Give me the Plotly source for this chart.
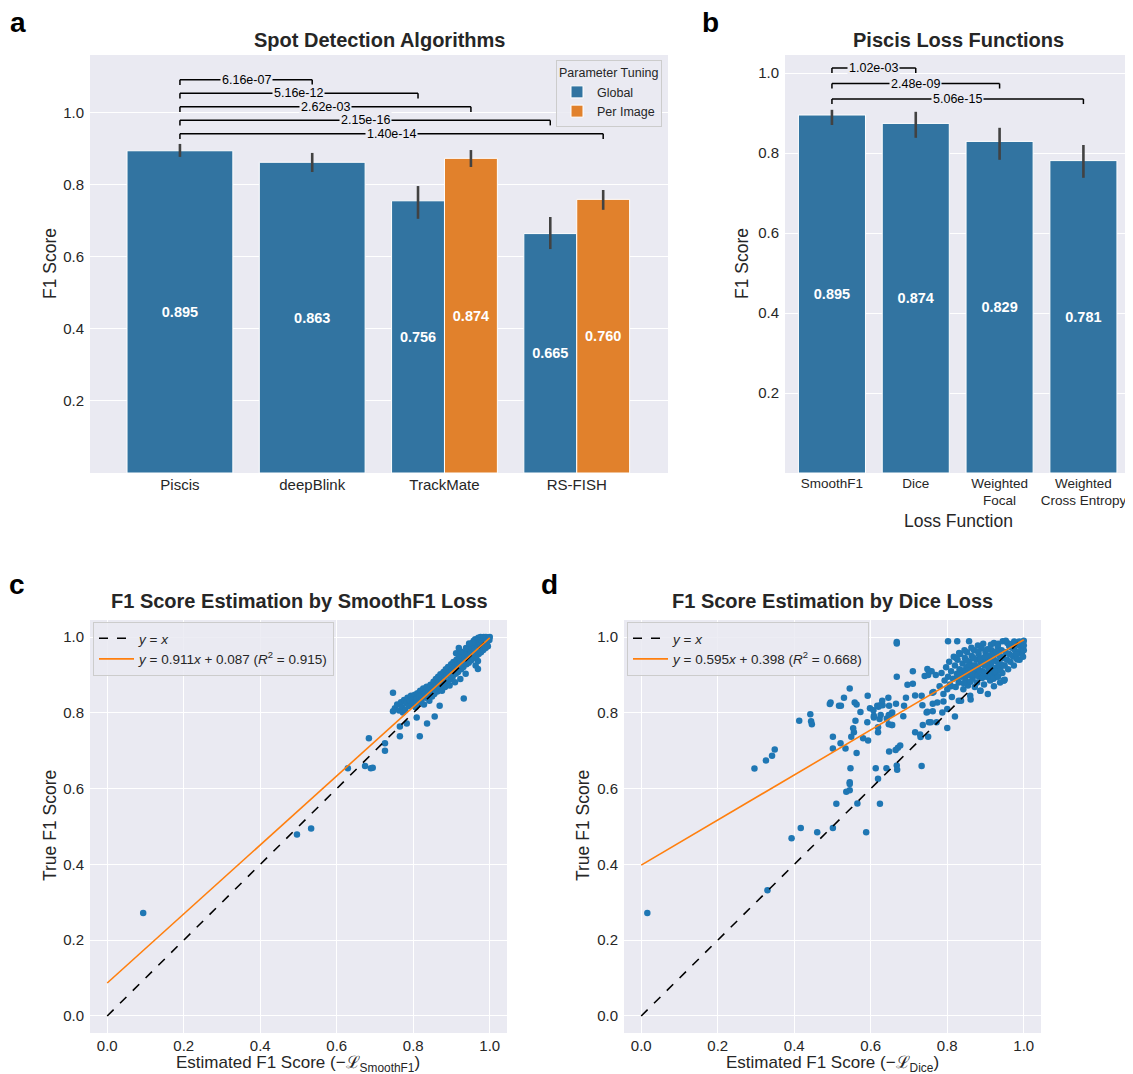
import plotly.graph_objects as go

# The page adds an 8px body margin; work in reference pixel coords and shift.
OFF = 8
W, H = 1133 - OFF, 1074 - OFF
def px(x): return (x - OFF) / W
def py(y): return 1 - (y - OFF) / H

BLUE = "#3274a1"; ORANGE = "#e1812c"; BG = "#eaeaf2"; TXT = "#262626"
SBLUE = "#1f77b4"; SORANGE = "#ff7f0e"
FONT = "Liberation Sans, Arial, Helvetica, sans-serif"

# ---------------- Panel a data ----------------
algorithms = ["Piscis", "deepBlink", "TrackMate", "RS-FISH"]
global_f1 = [0.895, 0.863, 0.756, 0.665]
global_lo = [0.878, 0.836, 0.706, 0.622]
global_hi = [0.914, 0.889, 0.797, 0.711]
perimage_f1 = [None, None, 0.874, 0.760]
perimage_lo = [None, None, 0.850, 0.731]
perimage_hi = [None, None, 0.897, 0.786]
a_comparisons = [("deepBlink", "Global", "6.16e-07"),
                 ("TrackMate", "Global", "5.16e-12"),
                 ("TrackMate", "Per Image", "2.62e-03"),
                 ("RS-FISH", "Global", "2.15e-16"),
                 ("RS-FISH", "Per Image", "1.40e-14")]

# ---------------- Panel b data ----------------
losses = ["SmoothF1", "Dice", "Weighted<br>Focal", "Weighted<br>Cross Entropy"]
loss_f1 = [0.895, 0.874, 0.829, 0.781]
loss_lo = [0.870, 0.838, 0.783, 0.738]
loss_hi = [0.908, 0.903, 0.863, 0.820]
b_comparisons = [(1, "1.02e-03"), (2, "2.48e-09"), (3, "5.06e-15")]

# ---------------- Panel c data (estimated, true) ----------------
smoothf1_points = [
    (0.094, 0.272), (0.496, 0.479), (0.533, 0.495), (0.629, 0.654), (0.674, 0.660),
    (0.684, 0.733), (0.689, 0.654), (0.694, 0.655), (0.726, 0.700), (0.726, 0.720),
    (0.747, 0.853), (0.765, 0.738), (0.765, 0.764), (0.817, 0.738), (0.836, 0.772),
    (0.856, 0.790), (0.932, 0.838), (0.747, 0.804), (0.773, 0.801), (0.783, 0.772),
    (0.809, 0.788), (0.869, 0.819), (0.969, 0.916), (0.969, 0.937),
    (0.752, 0.812), (0.758, 0.822), (0.763, 0.806), (0.768, 0.828), (0.771, 0.815),
    (0.776, 0.834), (0.779, 0.808), (0.782, 0.826), (0.785, 0.840), (0.788, 0.818),
    (0.791, 0.832), (0.794, 0.845), (0.797, 0.822), (0.799, 0.836),
    (0.802, 0.828), (0.804, 0.848), (0.806, 0.815), (0.809, 0.838), (0.811, 0.852),
    (0.813, 0.826), (0.816, 0.842), (0.818, 0.858), (0.821, 0.833), (0.823, 0.847),
    (0.826, 0.864), (0.828, 0.822), (0.831, 0.853), (0.833, 0.840), (0.835, 0.869),
    (0.838, 0.848), (0.840, 0.860), (0.842, 0.832), (0.845, 0.874), (0.847, 0.855),
    (0.849, 0.843),
    (0.851, 0.868), (0.853, 0.882), (0.855, 0.850), (0.857, 0.862), (0.859, 0.889),
    (0.861, 0.873), (0.863, 0.856), (0.865, 0.895), (0.867, 0.880), (0.869, 0.866),
    (0.871, 0.902), (0.873, 0.887), (0.875, 0.858), (0.877, 0.874), (0.879, 0.908),
    (0.881, 0.893), (0.883, 0.868), (0.885, 0.915), (0.887, 0.899), (0.889, 0.881),
    (0.891, 0.921), (0.893, 0.906), (0.895, 0.872), (0.897, 0.888), (0.899, 0.928),
    (0.901, 0.912), (0.903, 0.895), (0.905, 0.934), (0.907, 0.919), (0.909, 0.881),
    (0.911, 0.903), (0.913, 0.940), (0.915, 0.925), (0.917, 0.908), (0.919, 0.946),
    (0.921, 0.930), (0.923, 0.889), (0.925, 0.915), (0.927, 0.952), (0.929, 0.937),
    (0.931, 0.921), (0.933, 0.958), (0.935, 0.943), (0.937, 0.903), (0.939, 0.928),
    (0.941, 0.963), (0.943, 0.948), (0.945, 0.932), (0.947, 0.968), (0.949, 0.954),
    (0.912, 0.957), (0.924, 0.962), (0.938, 0.971), (0.919, 0.971),
    (0.951, 0.938), (0.953, 0.973), (0.955, 0.959), (0.957, 0.944), (0.959, 0.978),
    (0.961, 0.964), (0.963, 0.925), (0.965, 0.950), (0.967, 0.983), (0.969, 0.969),
    (0.971, 0.955), (0.973, 0.987), (0.975, 0.974), (0.977, 0.960), (0.979, 0.991),
    (0.981, 0.978), (0.983, 0.966), (0.985, 0.994), (0.987, 0.983), (0.989, 0.971),
    (0.991, 0.997), (0.993, 0.987), (0.995, 0.976), (0.997, 0.999), (0.999, 0.992),
    (0.962, 0.994), (0.958, 0.990), (0.970, 0.998), (0.976, 1.000), (0.984, 1.000),
    (0.990, 1.000), (0.996, 0.996), (1.000, 1.000), (0.955, 0.985), (0.946, 0.983),
]
smoothf1_fit = (0.911, 0.087, 0.915)  # slope, intercept, R^2

# ---------------- Panel d data (estimated, true) ----------------
dice_points = [
    (0.016, 0.272), (0.330, 0.332), (0.296, 0.653), (0.326, 0.674), (0.342, 0.687),
    (0.349, 0.703), (0.413, 0.779), (0.442, 0.796), (0.444, 0.778), (0.446, 0.770),
    (0.393, 0.469), (0.417, 0.496), (0.460, 0.485), (0.501, 0.496), (0.588, 0.485),
    (0.510, 0.560), (0.565, 0.561), (0.624, 0.560), (0.536, 0.592), (0.545, 0.596),
    (0.545, 0.617), (0.545, 0.612), (0.547, 0.654), (0.563, 0.694), (0.501, 0.706),
    (0.521, 0.720), (0.534, 0.706), (0.501, 0.737), (0.549, 0.737), (0.554, 0.759),
    (0.556, 0.749), (0.560, 0.779), (0.573, 0.802), (0.591, 0.775), (0.593, 0.727),
    (0.580, 0.733), (0.608, 0.788), (0.623, 0.784), (0.620, 0.816), (0.631, 0.820),
    (0.646, 0.840), (0.648, 0.819), (0.666, 0.824), (0.687, 0.819), (0.654, 0.797),
    (0.685, 0.791), (0.642, 0.785), (0.655, 0.768), (0.619, 0.762), (0.619, 0.749),
    (0.613, 0.654), (0.619, 0.626), (0.641, 0.654), (0.648, 0.698), (0.665, 0.702),
    (0.668, 0.661), (0.669, 0.650), (0.671, 0.708), (0.677, 0.714), (0.668, 0.895),
    (0.696, 0.874), (0.710, 0.877), (0.710, 0.910), (0.716, 0.846), (0.733, 0.845),
    (0.692, 0.840), (0.716, 0.749), (0.730, 0.736), (0.733, 0.660), (0.750, 0.737),
    (0.748, 0.803), (0.762, 0.804), (0.741, 0.897), (0.761, 0.853), (0.762, 0.824),
    (0.752, 0.775), (0.772, 0.775), (0.787, 0.801), (0.495, 0.827), (0.493, 0.823),
    (0.517, 0.819), (0.522, 0.819), (0.530, 0.840), (0.545, 0.864), (0.558, 0.827),
    (0.563, 0.822), (0.592, 0.845), (0.598, 0.812), (0.607, 0.807), (0.617, 0.819),
    (0.625, 0.820), (0.630, 0.832), (0.608, 0.792), (0.626, 0.794), (0.647, 0.794),
    (0.656, 0.801), (0.647, 0.770), (0.656, 0.768), (0.748, 0.916), (0.752, 0.910),
    (0.759, 0.910), (0.750, 0.900), (0.770, 0.900), (0.764, 0.855), (0.774, 0.827),
    (0.735, 0.820), (0.746, 0.801), (0.729, 0.743), (0.736, 0.768), (0.757, 0.775),
    (0.800, 0.810), (0.800, 0.760), (0.820, 0.790), (0.830, 0.832), (0.861, 0.835),
    (0.887, 0.858), (0.948, 0.885), (0.950, 0.887), (0.996, 0.971), (0.810, 0.870),
    (0.790, 0.830),
    (0.668, 0.987), (0.668, 0.983), (0.802, 0.989), (0.826, 0.989), (0.857, 0.989),
    (0.880, 0.978), (0.894, 0.982), (0.914, 0.980), (0.922, 0.984), (0.933, 0.982),
    (0.945, 0.989), (0.953, 0.990), (0.957, 0.984), (0.962, 0.976), (0.970, 0.982),
    (0.975, 0.988), (0.988, 0.988),
    (0.780, 0.870), (0.785, 0.905), (0.790, 0.850), (0.793, 0.885), (0.797, 0.920),
    (0.800, 0.862), (0.802, 0.895), (0.805, 0.935), (0.807, 0.875), (0.810, 0.910),
    (0.812, 0.842), (0.815, 0.890), (0.817, 0.948), (0.820, 0.925), (0.822, 0.868),
    (0.825, 0.903), (0.827, 0.940), (0.830, 0.880), (0.832, 0.915), (0.834, 0.955),
    (0.836, 0.832), (0.838, 0.895), (0.840, 0.930), (0.842, 0.862), (0.844, 0.908),
    (0.846, 0.945), (0.848, 0.885), (0.850, 0.920), (0.852, 0.960), (0.854, 0.872),
    (0.856, 0.900), (0.858, 0.935), (0.860, 0.845), (0.862, 0.915), (0.864, 0.950),
    (0.866, 0.890), (0.868, 0.925), (0.870, 0.965), (0.872, 0.868), (0.874, 0.905),
    (0.876, 0.940), (0.878, 0.880), (0.880, 0.918), (0.882, 0.955), (0.884, 0.895),
    (0.886, 0.858), (0.888, 0.932), (0.890, 0.970), (0.892, 0.910), (0.894, 0.945),
    (0.896, 0.875), (0.898, 0.925), (0.900, 0.960), (0.902, 0.895), (0.904, 0.938),
    (0.906, 0.850), (0.908, 0.915), (0.910, 0.950), (0.912, 0.885), (0.914, 0.928),
    (0.916, 0.965), (0.918, 0.905), (0.920, 0.942), (0.922, 0.870), (0.924, 0.918),
    (0.926, 0.958), (0.928, 0.895), (0.930, 0.935), (0.932, 0.975), (0.934, 0.912),
    (0.936, 0.950), (0.938, 0.880), (0.940, 0.928), (0.942, 0.965), (0.944, 0.905),
    (0.946, 0.945), (0.948, 0.885), (0.950, 0.925), (0.953, 0.960), (0.956, 0.940),
    (0.959, 0.915), (0.962, 0.955), (0.965, 0.935), (0.968, 0.972), (0.971, 0.950),
    (0.974, 0.925), (0.977, 0.965), (0.980, 0.945), (0.983, 0.980), (0.986, 0.960),
    (0.989, 0.940), (0.992, 0.975), (0.995, 0.955), (0.998, 0.985), (1.000, 0.965),
    (1.000, 0.978), (1.000, 0.990), (0.998, 0.948), (0.981, 0.954), (0.983, 0.941),
    (0.823, 0.945), (0.831, 0.958), (0.839, 0.912), (0.845, 0.965), (0.851, 0.938),
    (0.857, 0.925), (0.863, 0.972), (0.869, 0.945), (0.875, 0.918), (0.881, 0.962),
    (0.887, 0.942), (0.893, 0.928), (0.899, 0.948), (0.905, 0.968), (0.911, 0.932),
    (0.917, 0.952), (0.923, 0.938), (0.929, 0.962), (0.935, 0.925), (0.941, 0.948),
    (0.827, 0.892), (0.833, 0.905), (0.843, 0.878), (0.849, 0.898), (0.855, 0.912),
    (0.861, 0.882), (0.867, 0.902), (0.873, 0.925), (0.879, 0.898), (0.885, 0.912),
    (0.891, 0.892), (0.897, 0.905), (0.903, 0.925), (0.909, 0.898), (0.915, 0.912),
    (0.921, 0.890), (0.927, 0.908), (0.933, 0.895), (0.939, 0.912), (0.945, 0.925),
]
dice_fit = (0.595, 0.398, 0.668)

fit_x = [0.0, 1.0]
ticks01 = [0.0, 0.2, 0.4, 0.6, 0.8, 1.0]
bar_ticks = [0.2, 0.4, 0.6, 0.8, 1.0]

fig = go.Figure()

# ---------------- Panel a bars ----------------
def a_pos(i, hue):
    if perimage_f1[i] is None:
        return i, 0.8
    return (i - 0.2, 0.4) if hue == "Global" else (i + 0.2, 0.4)

barfont = dict(color="white", size=14.5, family=FONT)
gx, gw = zip(*[a_pos(i, "Global") for i in range(len(algorithms))])
fig.add_trace(go.Bar(
    x=list(gx), y=global_f1, width=list(gw), name="Global", marker_color=BLUE,
    marker_line=dict(color="white", width=1),
    error_y=dict(type="data", symmetric=False,
                 array=[h - v for h, v in zip(global_hi, global_f1)],
                 arrayminus=[v - l for l, v in zip(global_lo, global_f1)],
                 color="#424242", thickness=2.6, width=0),
    texttemplate="<b>%{y:.3f}</b>", textposition="inside", insidetextanchor="middle",
    textangle=0, textfont=barfont,
    xaxis="x", yaxis="y", legend="legend"))
pi_idx = [i for i, v in enumerate(perimage_f1) if v is not None]
fig.add_trace(go.Bar(
    x=[a_pos(i, "Per Image")[0] for i in pi_idx], y=[perimage_f1[i] for i in pi_idx],
    width=[a_pos(i, "Per Image")[1] for i in pi_idx], name="Per Image",
    marker_color=ORANGE, marker_line=dict(color="white", width=1),
    error_y=dict(type="data", symmetric=False,
                 array=[perimage_hi[i] - perimage_f1[i] for i in pi_idx],
                 arrayminus=[perimage_f1[i] - perimage_lo[i] for i in pi_idx],
                 color="#424242", thickness=2.6, width=0),
    texttemplate="<b>%{y:.3f}</b>", textposition="inside", insidetextanchor="middle",
    textangle=0, textfont=barfont,
    xaxis="x", yaxis="y", legend="legend"))

shapes = []
annotations = []

def bracket(x0, x1, y, tick, label, xref, yref):
    lw = dict(color="black", width=1.5)
    shapes.append(dict(type="line", x0=x0, x1=x1, y0=y, y1=y, xref=xref, yref=yref, line=lw))
    shapes.append(dict(type="line", x0=x0, x1=x0, y0=y, y1=y - tick, xref=xref, yref=yref, line=lw))
    shapes.append(dict(type="line", x0=x1, x1=x1, y0=y, y1=y - tick, xref=xref, yref=yref, line=lw))
    annotations.append(dict(x=(x0 + x1) / 2, y=y, xref=xref, yref=yref, text=label,
                            showarrow=False, bgcolor=BG, borderpad=1,
                            font=dict(size=12.5, color="black", family=FONT),
                            xanchor="center", yanchor="middle"))

n = len(a_comparisons)
for k, (cat, hue, lab) in enumerate(a_comparisons):
    x1 = a_pos(algorithms.index(cat), hue)[0]
    bracket(0, x1, 0.942 + 0.0375 * (n - 1 - k), 0.014, lab, "x", "y")

# ---------------- Panel b bars ----------------
fig.add_trace(go.Bar(
    x=list(range(len(losses))), y=loss_f1, width=0.8, marker_color=BLUE,
    marker_line=dict(color="white", width=1), showlegend=False,
    error_y=dict(type="data", symmetric=False,
                 array=[h - v for h, v in zip(loss_hi, loss_f1)],
                 arrayminus=[v - l for l, v in zip(loss_lo, loss_f1)],
                 color="#424242", thickness=2.6, width=0),
    texttemplate="<b>%{y:.3f}</b>", textposition="inside", insidetextanchor="middle",
    textangle=0, textfont=barfont,
    xaxis="x2", yaxis="y2"))
for k, (j, lab) in enumerate(b_comparisons):
    bracket(0, j, 1.0125 - 0.0388 * k, 0.0125, lab, "x2", "y2")

# ---------------- Panels c, d scatter ----------------
def scatter_panel(points, fit, xa, ya, leg):
    xs = [p[0] for p in points]; ys = [p[1] for p in points]
    fig.add_trace(go.Scatter(x=xs, y=ys, mode="markers", showlegend=False,
                             marker=dict(color=SBLUE, size=6.5, line=dict(width=0)),
                             xaxis=xa, yaxis=ya))
    fig.add_trace(go.Scatter(x=fit_x, y=fit_x, mode="lines", name="<i>y</i> = <i>x</i>",
                             line=dict(color="black", dash="dash", width=1.6),
                             xaxis=xa, yaxis=ya, legend=leg))
    s, b, r2 = fit
    fig.add_trace(go.Scatter(x=fit_x, y=[s * v + b for v in fit_x], mode="lines",
                             name=f"<i>y</i> = {s:.3f}<i>x</i> + {b:.3f} (<i>R</i><sup>2</sup> = {r2:.3f})",
                             line=dict(color=SORANGE, width=1.6),
                             xaxis=xa, yaxis=ya, legend=leg))

scatter_panel(smoothf1_points, smoothf1_fit, "x3", "y3", "legend2")
scatter_panel(dice_points, dice_fit, "x4", "y4", "legend3")

# ---------------- Axes ----------------
tickfont = dict(size=15, color=TXT, family=FONT)
def ax(**kw):
    base = dict(showgrid=True, gridcolor="white", gridwidth=1, zeroline=False,
                showline=False, ticks="", tickfont=tickfont, ticklabelstandoff=5)
    base.update(kw)
    return base

top_dom = [py(473), py(55)]
bot_dom = [py(1033), py(620)]
layout = dict(
    width=W, height=H, margin=dict(l=0, r=0, t=0, b=0),
    paper_bgcolor="white", plot_bgcolor=BG, barmode="overlay",
    font=dict(family=FONT, color=TXT),
    xaxis=ax(domain=[px(90), px(668)], range=[-0.68, 3.69], tickvals=list(range(4)),
             ticktext=algorithms, showgrid=False, anchor="y", ticklabelstandoff=1),
    yaxis=ax(domain=top_dom, range=[0, 1.161], tickvals=bar_ticks, tickformat=".1f", anchor="x"),
    xaxis2=ax(domain=[px(785), px(1127)], range=[-0.56, 3.52], tickvals=list(range(4)),
              ticktext=losses, showgrid=False, anchor="y2", ticklabelstandoff=0,
              tickfont=dict(size=13.5, color=TXT, family=FONT)),
    yaxis2=ax(domain=top_dom, range=[0, 1.045], tickvals=bar_ticks, tickformat=".1f", anchor="x2"),
    xaxis3=ax(domain=[px(90), px(507)], range=[-0.045, 1.045], tickvals=ticks01, tickformat=".1f",
              anchor="y3", ticklabelstandoff=2),
    yaxis3=ax(domain=bot_dom, range=[-0.045, 1.045], tickvals=ticks01, tickformat=".1f", anchor="x3"),
    xaxis4=ax(domain=[px(624), px(1041)], range=[-0.045, 1.045], tickvals=ticks01, tickformat=".1f",
              anchor="y4", ticklabelstandoff=2),
    yaxis4=ax(domain=bot_dom, range=[-0.045, 1.045], tickvals=ticks01, tickformat=".1f", anchor="x4"),
    legend=dict(x=px(662), y=py(60), xanchor="right", yanchor="top",
                bgcolor="rgba(234,234,242,0.85)", bordercolor="#cccccc", borderwidth=1,
                title=dict(text="Parameter Tuning", font=dict(size=12.5, color=TXT)),
                font=dict(size=12.5, color=TXT), itemwidth=30, tracegroupgap=0),
    legend2=dict(x=px(93), y=py(622), xanchor="left", yanchor="top",
                 bgcolor="rgba(234,234,242,0.85)", bordercolor="#cccccc", borderwidth=1,
                 font=dict(size=13.5, color=TXT), itemwidth=35),
    legend3=dict(x=px(627), y=py(622), xanchor="left", yanchor="top",
                 bgcolor="rgba(234,234,242,0.85)", bordercolor="#cccccc", borderwidth=1,
                 font=dict(size=13.5, color=TXT), itemwidth=35),
)

def text(xp, yp, s, size, bold=False, angle=0, anchor="center", yanchor="middle"):
    annotations.append(dict(x=px(xp), y=py(yp), xref="paper", yref="paper",
                            text=f"<b>{s}</b>" if bold else s, showarrow=False,
                            textangle=angle, xanchor=anchor, yanchor=yanchor,
                            font=dict(size=size, color=TXT if not bold or size < 24 else "black", family=FONT)))

# panel letters
text(18, 22, "a", 28, bold=True)
text(710, 22, "b", 28, bold=True)
text(17, 584, "c", 28, bold=True)
text(549, 584, "d", 28, bold=True)
# titles
text(379, 40, "Spot Detection Algorithms", 20, bold=True)
text(958, 40, "Piscis Loss Functions", 20, bold=True)
text(299, 601, "F1 Score Estimation by SmoothF1 Loss", 20, bold=True)
text(832, 601, "F1 Score Estimation by Dice Loss", 20, bold=True)
# axis titles
text(50, 264, "F1 Score", 17.5, angle=-90)
text(742, 264, "F1 Score", 17.5, angle=-90)
text(958, 521, "Loss Function", 17.5)
text(50, 826, "True F1 Score", 17.5, angle=-90)
text(583, 826, "True F1 Score", 17.5, angle=-90)
text(298, 1064, "Estimated F1 Score (−ℒ<sub>SmoothF1</sub>)", 17)
text(832, 1064, "Estimated F1 Score (−ℒ<sub>Dice</sub>)", 17)

layout["shapes"] = shapes
layout["annotations"] = annotations
fig.update_layout(**layout)
fig.write_html("out.html")
